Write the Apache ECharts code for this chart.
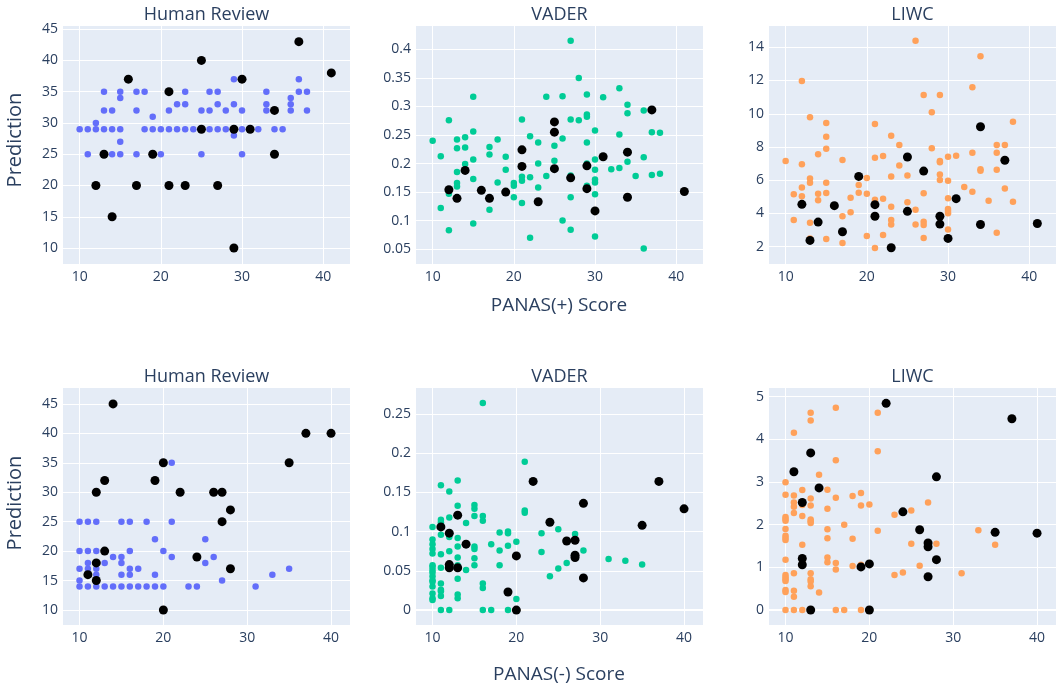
<!DOCTYPE html>
<html><head><meta charset="utf-8">
<script src="https://cdn.jsdelivr.net/npm/echarts@6/dist/echarts.min.js"></script>
<style>html,body{margin:0;padding:0;background:#fff}#c{width:1056px;height:686px}</style>
</head><body><div id="c"></div>
<script>
// ---------- DATA ----------
const subplotTitles = ['Human Review', 'VADER', 'LIWC'];
const rowAxisTitles = ['PANAS(+) Score', 'PANAS(-) Score'];
const xTicks = [10, 20, 30, 40];
const yTicksPosHuman = [10, 15, 20, 25, 30, 35, 40, 45];
const yTicksPosVader = [0.05, 0.1, 0.15, 0.2, 0.25, 0.3, 0.35, 0.4];
const yTicksPosLiwc = [2, 4, 6, 8, 10, 12, 14];
const yTicksNegHuman = [10, 15, 20, 25, 30, 35, 40, 45];
const yTicksNegVader = [0, 0.05, 0.1, 0.15, 0.2, 0.25];
const yTicksNegLiwc = [0, 1, 2, 3, 4, 5];

// PANAS(+) Human Review
const posHumanAll = [
  [10,29],[11,29],[12,29],[13,29],[14,29],[15,29],[18,29],[19,29],[20,29],[21,29],[22,29],[23,29],[24,29],[25,29],[26,29],[27,29],[28,29],[29,29],[30,29],[31,29],[32,29],[34,29],[35,29],
  [12,30],
  [13,35],[15,35],[17,35],[18,35],[21,35],[23,35],[26,35],[27,35],[33,35],[37,35],[38,35],
  [15,34],[36,34],
  [13,32],[14,32],[17,32],[21,32],[25,32],[26,32],[28,32],[30,32],[33,32],[34,32],[36,32],[38,32],
  [22,33],[23,33],[27,33],[29,33],[33,33],[36,33],
  [19,31],[29,28],[15,27],
  [11,25],[14,25],[15,25],[17,25],[20,25],[25,25],[30,25],
  [29,37],[37,37]
];
const posHumanSel = [[12,20],[13,25],[14,15],[16,37],[17,20],[19,25],[21,35],[21,20],[23,20],[25,40],[25,29],[27,20],[29,29],[29,10],[30,37],[31,29],[34,32],[34,25],[37,43],[41,38]];

// PANAS(+) VADER
const posVaderAll = [
  [10,0.240],[11,0.213],[11,0.122],[12,0.276],[12,0.083],[12,0.147],[13,0.242],[13,0.227],[13,0.185],[13,0.166],[13,0.160],
  [14,0.246],[14,0.228],[14,0.199],[15,0.317],[15,0.256],[15,0.207],[15,0.173],[15,0.095],[17,0.229],[17,0.216],[17,0.119],
  [18,0.242],[18,0.167],[19,0.212],[19,0.189],[20,0.166],[20,0.161],[20,0.141],[21,0.277],[21,0.177],[21,0.170],[21,0.131],
  [22,0.248],[22,0.176],[22,0.070],[23,0.237],[23,0.200],[23,0.158],[23,0.132],[24,0.317],[24,0.178],[25,0.231],[25,0.205],
  [26,0.318],[26,0.244],[26,0.100],[27,0.415],[27,0.277],[27,0.141],[27,0.084],[27,0.179],[28,0.350],[28,0.276],
  [29,0.321],[29,0.286],[29,0.282],[29,0.237],[29,0.200],[29,0.161],[30,0.258],[30,0.207],[30,0.189],[30,0.172],[30,0.167],
  [30,0.146],[30,0.072],[31,0.316],[32,0.190],[33,0.332],[33,0.251],[33,0.192],[34,0.303],[34,0.288],[34,0.203],[35,0.178],
  [36,0.293],[36,0.211],[36,0.051],[37,0.255],[37,0.180],[38,0.254],[38,0.182]
];
const posVaderSel = [[12,0.154],[13,0.139],[14,0.188],[16,0.153],[17,0.139],[19,0.150],[21,0.224],[21,0.195],[23,0.133],[25,0.273],[25,0.255],[25,0.191],[27,0.175],[29,0.196],[29,0.156],[30,0.117],[31,0.212],[34,0.220],[34,0.141],[37,0.294],[41,0.151]];

// PANAS(+) LIWC
const posLiwcAll = [
  [10,7.16],[11,5.15],[11,3.60],[12,11.97],[12,6.96],[12,5.57],[12,5.03],[13,9.79],[13,6.11],[13,5.85],[13,3.44],[13,2.50],
  [14,7.56],[14,5.19],[14,4.79],[15,9.44],[15,8.62],[15,7.90],[15,5.85],[15,5.23],[15,2.46],[17,7.22],[17,3.83],[17,2.22],
  [18,4.95],[18,4.07],[19,5.71],[19,5.25],[20,6.13],[20,5.19],[20,2.64],[21,9.38],[21,7.36],[21,4.83],[21,1.92],
  [22,7.46],[22,4.89],[22,2.70],[23,8.68],[23,6.23],[23,4.41],[23,3.60],[23,3.34],[24,8.12],[24,6.88],[25,6.29],[25,4.67],
  [26,14.40],[26,4.23],[26,3.34],[27,11.13],[27,5.21],[27,3.50],[27,3.30],[27,2.52],[28,10.09],[28,7.92],
  [29,11.13],[29,7.16],[29,7.08],[29,6.35],[29,6.01],[30,7.42],[30,5.97],[30,4.91],[30,4.27],[30,4.15],[30,4.01],[30,3.04],
  [31,7.48],[32,5.59],[33,11.59],[33,7.66],[33,5.31],[34,13.46],[34,6.66],[34,6.57],[35,4.77],[36,8.12],[36,7.66],[36,6.63],[36,2.84],
  [37,8.12],[37,5.51],[38,9.52],[38,4.71]
];
const posLiwcSel = [[12,4.55],[13,2.38],[14,3.48],[16,4.47],[17,2.90],[19,6.23],[21,4.53],[21,3.83],[23,1.94],[25,7.40],[25,4.13],[27,6.55],[29,3.83],[29,3.36],[30,2.50],[31,4.89],[34,9.22],[34,3.34],[37,7.20],[41,3.40]];

// PANAS(-) Human Review
const negHumanAll = [
  [10,25],[11,25],[12,25],[15,25],[16,25],[18,25],[21,25],
  [19,22],[25,22],
  [10,20],[11,20],[12,20],[16,20],[20,20],
  [14,19],[15,19],[21,19],[26,19],
  [11,18],[13,18],[15,18],[25,18],
  [10,17],[11,17],[12,17],[16,17],[17,17],[35,17],
  [12,16],[15,16],[16,16],[19,16],[33,16],
  [10,15],[27,15],
  [10,14],[11,14],[12,14],[13,14],[14,14],[15,14],[16,14],[17,14],[18,14],[19,14],[20,14],[23,14],[24,14],[31,14],
  [21,35]
];
const negHumanSel = [[14,45],[37,40],[40,40],[20,35],[35,35],[13,32],[19,32],[12,30],[22,30],[26,30],[27,30],[28,27],[27,25],[13,20],[24,19],[12,18],[11,16],[12,15],[28,17],[20,10]];

// PANAS(-) VADER
const negVaderAll = [
  [10,0.106],[10,0.090],[10,0.084],[10,0.078],[10,0.072],[10,0.057],[10,0.055],[10,0.051],[10,0.048],[10,0.043],[10,0.038],[10,0.036],[10,0.030],[10,0.021],[10,0.015],[10,0.013],
  [11,0.159],[11,0.115],[11,0.112],[11,0.096],[11,0.071],[11,0.054],[11,0.034],[11,0.026],[11,0.024],[11,0.018],[11,0],
  [12,0.151],[12,0.118],[12,0.095],[12,0.093],[12,0.075],[12,0.055],[12,0],
  [13,0.165],[13,0.133],[13,0.092],[13,0.081],[13,0.067],[13,0.057],[13,0.040],[13,0.020],[13,0.015],
  [14,0.111],[14,0.051],
  [15,0.134],[15,0.129],[15,0.120],[15,0.081],[15,0.078],[15,0.066],[15,0.057],
  [16,0.264],[16,0.120],[16,0.114],[16,0.034],[16,0.028],[16,0],
  [17,0.084],[17,0],[18,0.099],[18,0.076],[18,0.057],[19,0.100],[19,0.098],[19,0.082],[19,0],[20,0.087],[20,0.014],
  [21,0.189],[21,0.127],[21,0.124],[23,0.098],[23,0.074],[24,0.043],[25,0.103],[25,0.053],[26,0.060],[27,0.097],[28,0.076],
  [31,0.065],[33,0.063],[35,0.058]
];
const negVaderSel = [[11,0.106],[12,0.098],[12,0.058],[12,0.054],[13,0.121],[13,0.054],[14,0.084],[19,0.023],[20,0.069],[20,0],[22,0.164],[24,0.112],[26,0.088],[27,0.089],[27,0.070],[27,0.067],[28,0.136],[28,0.041],[35,0.108],[37,0.164],[40,0.129]];

// PANAS(-) LIWC
const negLiwcAll = [
  [10,2.99],[10,2.70],[10,2.18],[10,2.13],[10,2.09],[10,1.90],[10,1.74],[10,1.69],[10,1.64],[10,1.18],[10,0.82],[10,0.77],[10,0.72],[10,0.68],[10,0.47],[10,0.42],[10,0],
  [11,4.15],[11,2.68],[11,2.52],[11,2.42],[11,2.27],[11,0.86],[11,0.45],[11,0.31],[11,0],
  [12,2.81],[12,2.46],[12,2.20],[12,1.53],[12,1.15],[12,0],
  [13,4.62],[13,4.44],[13,2.61],[13,2.45],[13,2.12],[13,2.08],[13,2.04],[13,0.86],[13,0.72],[13,0.67],[13,0.56],
  [14,3.17],[14,0.41],
  [15,2.82],[15,2.37],[15,1.89],[15,1.68],[15,1.23],[15,1.12],
  [16,4.74],[16,3.51],[16,2.63],[16,1.10],[16,0.95],[16,0],
  [17,2.00],[17,0],[18,2.67],[18,1.67],[18,1.03],[19,2.74],[19,2.45],[19,1.06],[19,0],[20,2.47],
  [21,4.62],[21,3.72],[21,1.86],[23,2.23],[23,0.82],[24,0.88],[25,2.33],[25,1.55],[26,1.04],[27,2.52],[28,1.55],
  [31,0.86],[33,1.87],[35,1.53]
];
const negLiwcSel = [[11,3.24],[12,2.52],[12,1.21],[12,1.06],[13,3.68],[13,0],[14,2.86],[19,1.01],[20,1.08],[20,0],[22,4.84],[24,2.30],[26,1.88],[27,1.57],[27,1.48],[27,0.78],[28,3.12],[28,1.18],[35,1.82],[37,4.48],[40,1.80]];

// ---------- CHART ----------
const FONT = '"Open Sans", "Noto Sans", sans-serif';
const TXT = '#2a3f5f';
const colLeft = [63, 416, 769];
const W = 287;
const rows = [{top: 26, height: 238, xr: [7.95, 43.3]}, {top: 388, height: 237, xr: [8.03, 42.26]}];
const panels = [
  {row:0, col:0, all: posHumanAll, sel: posHumanSel, color:'#636efa', yr:[7.45,45.5], yt: yTicksPosHuman},
  {row:0, col:1, all: posVaderAll, sel: posVaderSel, color:'#00cc96', yr:[0.024,0.441], yt: yTicksPosVader},
  {row:0, col:2, all: posLiwcAll, sel: posLiwcSel, color:'#FFA15A', yr:[0.96,15.28], yt: yTicksPosLiwc},
  {row:1, col:0, all: negHumanAll, sel: negHumanSel, color:'#636efa', yr:[7.45,47.7], yt: yTicksNegHuman},
  {row:1, col:1, all: negVaderAll, sel: negVaderSel, color:'#00cc96', yr:[-0.019,0.283], yt: yTicksNegVader},
  {row:1, col:2, all: negLiwcAll, sel: negLiwcSel, color:'#FFA15A', yr:[-0.35,5.2], yt: yTicksNegLiwc}
];

const grid = [], xAxis = [], yAxis = [], series = [], graphic = [];
const gridLine = {show: true, lineStyle: {color: '#ffffff', width: 1}};
panels.forEach((p, i) => {
  const r = rows[p.row];
  grid.push({left: colLeft[p.col], top: r.top, width: W, height: r.height, show: true,
    backgroundColor: '#E5ECF6', borderWidth: 0, containLabel: false});
  xAxis.push({type: 'value', gridIndex: i, min: r.xr[0], max: r.xr[1],
    axisLine: {show: false}, axisTick: {show: false, customValues: xTicks},
    axisLabel: {customValues: xTicks, color: TXT, fontFamily: FONT, fontSize: 14, margin: 6},
    splitLine: gridLine});
  yAxis.push({type: 'value', gridIndex: i, min: p.yr[0], max: p.yr[1],
    axisLine: {show: false}, axisTick: {show: false, customValues: p.yt},
    axisLabel: {customValues: p.yt, color: TXT, fontFamily: FONT, fontSize: 14, margin: 5},
    splitLine: gridLine});
  // zero line (only where 0 lies inside the y range)
  if (p.yr[0] < 0 && p.yr[1] > 0) {
    series.push({type: 'scatter', xAxisIndex: i, yAxisIndex: i, data: [], z: 1, silent: true, animation: false,
      markLine: {z: 1, silent: true, symbol: 'none', label: {show: false}, animation: false,
        lineStyle: {color: '#ffffff', width: 2, type: 'solid'}, data: [{yAxis: 0}]}});
  }
  series.push({type: 'scatter', xAxisIndex: i, yAxisIndex: i, data: p.all, symbolSize: 6.5, z: 2,
    itemStyle: {color: p.color, opacity: 1}, silent: true, animation: false});
  series.push({type: 'scatter', xAxisIndex: i, yAxisIndex: i, data: p.sel, symbolSize: 9,
    itemStyle: {color: '#000000', opacity: 1}, silent: true, animation: false, z: 3});
  graphic.push({type: 'text', x: colLeft[p.col] + W / 2, y: p.row === 0 ? 15 : 377,
    style: {text: subplotTitles[p.col], align: 'center', verticalAlign: 'middle',
      font: '18px ' + FONT, fill: TXT}});
});
graphic.push({type: 'text', x: 559, y: 306, style: {text: rowAxisTitles[0], align: 'center', verticalAlign: 'middle', font: '19px ' + FONT, fill: TXT}});
graphic.push({type: 'text', x: 559, y: 675, style: {text: rowAxisTitles[1], align: 'center', verticalAlign: 'middle', font: '19px ' + FONT, fill: TXT}});
graphic.push({type: 'text', x: 15, y: 140, rotation: Math.PI / 2, style: {text: 'Prediction', align: 'center', verticalAlign: 'middle', font: '20px ' + FONT, fill: TXT}});
graphic.push({type: 'text', x: 15, y: 503, rotation: Math.PI / 2, style: {text: 'Prediction', align: 'center', verticalAlign: 'middle', font: '20px ' + FONT, fill: TXT}});

const chart = echarts.init(document.getElementById('c'), null, {renderer: 'canvas'});
chart.setOption({animation: false, backgroundColor: '#ffffff', grid, xAxis, yAxis, series, graphic});
</script></body></html>
